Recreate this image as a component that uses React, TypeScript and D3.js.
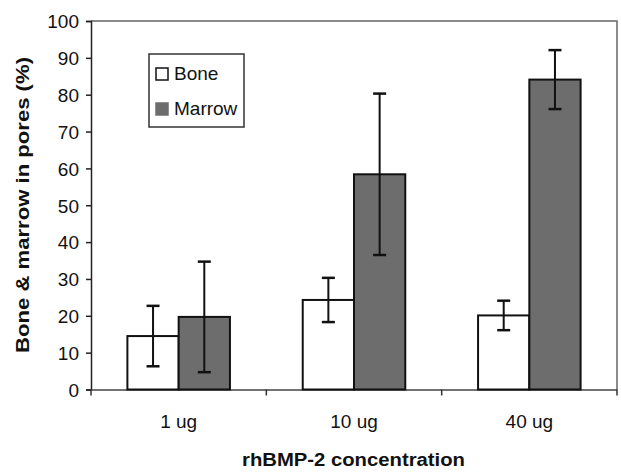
import React, { useEffect, useRef } from "react";
import * as d3 from "d3";

const doses = ["1 ug", "10 ug", "40 ug"];
const series = ["Bone", "Marrow"];
const boneMean = [14.5, 24.3, 20.1];
const boneSd = [8.2, 6.0, 4.0];
const marrowMean = [19.7, 58.4, 84.1];
const marrowSd = [15.0, 21.9, 8.0];
const yTicks = [0, 10, 20, 30, 40, 50, 60, 70, 80, 90, 100];

const fills = { Bone: "#ffffff", Marrow: "#6d6d6d" };

const App = () => {
  const svgRef = useRef<SVGSVGElement>(null);

  useEffect(() => {
    const width = 621;
    const height = 473;
    const margin = { top: 21, right: 4, bottom: 83.5, left: 91 };
    const font = "'Liberation Sans', Arial, sans-serif";
    const svg = d3.select(svgRef.current);
    svg.selectAll("*").remove();

    const x = d3
      .scaleBand()
      .domain(doses)
      .range([margin.left, width - margin.right])
      .paddingInner(0)
      .paddingOuter(0);
    const xSub = d3
      .scaleBand()
      .domain(series)
      .range([0, x.bandwidth()])
      .paddingOuter(0.71)
      .paddingInner(0);
    const y = d3
      .scaleLinear()
      .domain([0, 100])
      .range([height - margin.bottom, margin.top]);

    const rows = doses.map((d, i) => ({
      dose: d,
      values: [
        { key: "Bone", mean: boneMean[i], sd: boneSd[i] },
        { key: "Marrow", mean: marrowMean[i], sd: marrowSd[i] },
      ],
    }));

    // frame (top + right)
    svg
      .append("path")
      .attr(
        "d",
        `M${margin.left},${margin.top}H${width - margin.right}V${y(0)}`
      )
      .attr("fill", "none")
      .attr("stroke", "#666")
      .attr("stroke-width", 1.5);

    // y axis
    const yAxis = svg
      .append("g")
      .attr("transform", `translate(${margin.left},0)`)
      .call(d3.axisLeft(y).tickValues(yTicks).tickSize(5).tickPadding(7));
    yAxis.select(".domain").attr("stroke", "#222").attr("stroke-width", 1.5);
    yAxis.selectAll(".tick line").attr("stroke", "#222").attr("stroke-width", 1.5);
    yAxis
      .selectAll("text")
      .attr("font-family", font)
      .attr("font-size", 19)
      .attr("fill", "#111");
    yAxis.selectAll(".tick text").attr("dy", "0.36em");

    // x axis
    const xAxis = svg
      .append("g")
      .attr("transform", `translate(0,${y(0)})`)
      .call(d3.axisBottom(x).tickSize(0).tickPadding(25));
    xAxis.select(".domain").attr("stroke", "#444").attr("stroke-width", 1.5);
    xAxis
      .selectAll("text")
      .attr("font-family", font)
      .attr("font-size", 19)
      .attr("fill", "#111");
    const bounds = doses.map((d) => x(d) as number).concat([width - margin.right]);
    xAxis
      .selectAll(".bound")
      .data(bounds)
      .enter()
      .append("line")
      .attr("x1", (d) => d)
      .attr("x2", (d) => d)
      .attr("y1", 0)
      .attr("y2", 6)
      .attr("stroke", "#333")
      .attr("stroke-width", 1.5);

    // bars
    const groups = svg
      .selectAll(".grp")
      .data(rows)
      .enter()
      .append("g")
      .attr("transform", (d) => `translate(${x(d.dose)},0)`);

    groups
      .selectAll("rect")
      .data((d) => d.values)
      .enter()
      .append("rect")
      .attr("x", (d) => xSub(d.key) as number)
      .attr("y", (d) => y(d.mean))
      .attr("width", xSub.bandwidth())
      .attr("height", (d) => y(0) - y(d.mean))
      .attr("fill", (d) => fills[d.key])
      .attr("stroke", "#111")
      .attr("stroke-width", 2);

    // error bars
    const err = groups
      .selectAll(".err")
      .data((d) => d.values)
      .enter()
      .append("g")
      .attr("transform", (d) => `translate(${(xSub(d.key) as number) + xSub.bandwidth() / 2},0)`);
    err
      .append("line")
      .attr("y1", (d) => y(d.mean - d.sd))
      .attr("y2", (d) => y(d.mean + d.sd))
      .attr("stroke", "#111")
      .attr("stroke-width", 2);
    [1, -1].forEach((s) => {
      err
        .append("line")
        .attr("x1", -6.5)
        .attr("x2", 6.5)
        .attr("y1", (d) => y(d.mean + s * d.sd))
        .attr("y2", (d) => y(d.mean + s * d.sd))
        .attr("stroke", "#111")
        .attr("stroke-width", 2.5);
    });

    // legend
    const legend = svg.append("g").attr("transform", "translate(149,54)");
    legend
      .append("rect")
      .attr("width", 95)
      .attr("height", 73)
      .attr("fill", "#fff")
      .attr("stroke", "#333")
      .attr("stroke-width", 1.5);
    const item = legend
      .selectAll(".item")
      .data(series)
      .enter()
      .append("g")
      .attr("transform", (d, i) => `translate(7,${14 + i * 35})`);
    item
      .append("rect")
      .attr("width", 12)
      .attr("height", 12)
      .attr("fill", (d) => fills[d])
      .attr("stroke", (d) => (d === "Bone" ? "#111" : "#6d6d6d"))
      .attr("stroke-width", 1.5);
    item
      .append("text")
      .attr("x", 18)
      .attr("y", 12)
      .attr("font-family", font)
      .attr("font-size", 19)
      .attr("fill", "#111")
      .text((d) => d);

    // axis titles
    svg
      .append("text")
      .attr("transform", `translate(28.5,205) rotate(-90)`)
      .attr("text-anchor", "middle")
      .attr("font-family", font)
      .attr("font-weight", "bold")
      .attr("font-size", 18)
      .attr("textLength", 296)
      .attr("lengthAdjust", "spacingAndGlyphs")
      .attr("fill", "#111")
      .text("Bone & marrow in pores (%)");
    svg
      .append("text")
      .attr("x", 353.5)
      .attr("y", 466)
      .attr("text-anchor", "middle")
      .attr("font-family", font)
      .attr("font-weight", "bold")
      .attr("font-size", 18)
      .attr("textLength", 223)
      .attr("lengthAdjust", "spacingAndGlyphs")
      .attr("fill", "#111")
      .text("rhBMP-2 concentration");
  }, []);

  return (
    <svg
      ref={svgRef}
      width={621}
      height={473}
      style={{ position: "absolute", left: 0, top: 0, background: "#fff" }}
    ></svg>
  );
};

export default App;
